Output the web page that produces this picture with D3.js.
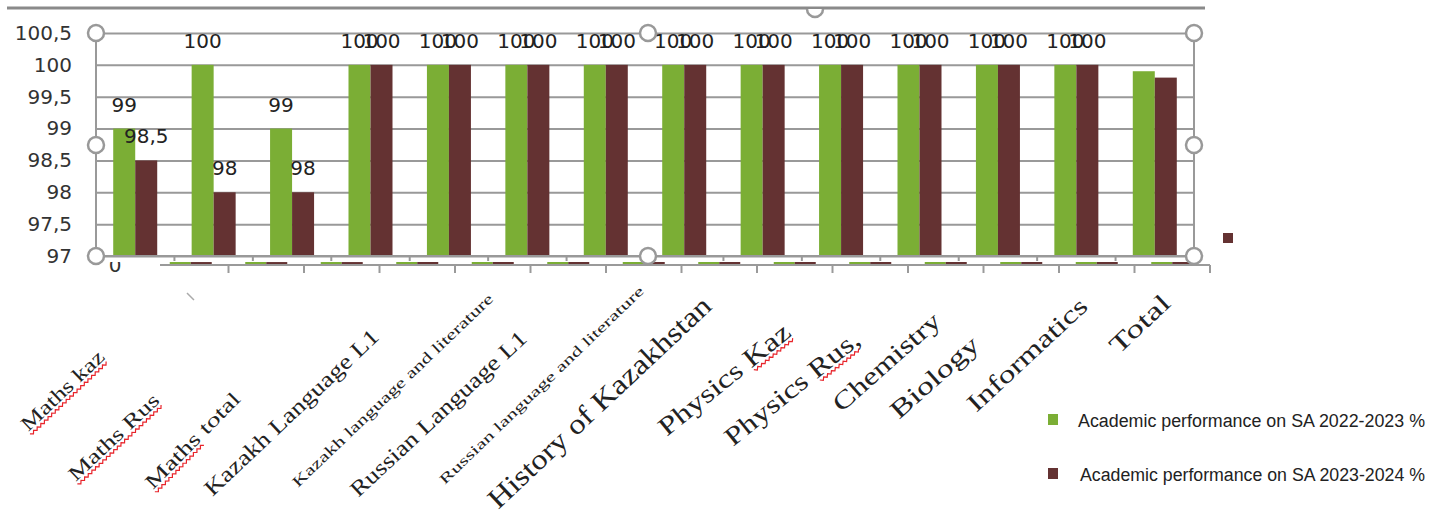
<!DOCTYPE html>
<html>
<head>
<meta charset="utf-8">
<script src="https://cdn.jsdelivr.net/npm/d3@7"></script>
<style>
  body { margin: 0; background: #fff; }
  svg { display: block; }
</style>
</head>
<body>
<script>
var width = 1432,
  height = 516;

// chart data
var categories = ["Maths kaz", "Maths Rus", "Maths total", "Kazakh Language L1", "Kazakh language and literature",
  "Russian Language L1", "Russian language and literature", "History of Kazakhstan", "Physics Kaz", "Physics Rus,",
  "Chemistry", "Biology", "Informatics", "Total"];
var series = ["Academic performance on SA 2022-2023 %", "Academic performance on SA 2023-2024 %"];
var values2022 = [99, 100, 99, 100, 100, 100, 100, 100, 100, 100, 100, 100, 100, 99.9];
var values2023 = [98.5, 98, 98, 100, 100, 100, 100, 100, 100, 100, 100, 100, 100, 99.8];
var yTicks = [97, 97.5, 98, 98.5, 99, 99.5, 100, 100.5];
var labelledCount = 13; // Total has no data labels

var colors = ["#7BAE35", "#643232"];

// rotated category label look (word-art like, uneven)
// dx from band centre, y of baseline start, angle, font size, text length, wavy underline range
var labelLayout = [
  { dx: -107, y: 432, a: -43.5, s: 20, len: 107, wave: [0, 1] },
  { dx: -138, y: 482, a: -43.3, s: 20, len: 117, wave: [0, 1] },
  { dx: -139, y: 490, a: -45.5, s: 20, len: 126, wave: [0, 0.55] },
  { dx: -158, y: 497, a: -43.4, s: 22, len: 231 },
  { dx: -151, y: 488, a: -43.8, s: 15, len: 272 },
  { dx: -169, y: 498, a: -42.9, s: 22, len: 232 },
  { dx: -161, y: 485, a: -44, s: 14, len: 278 },
  { dx: -186, y: 510, a: -43.2, s: 28, len: 295 },
  { dx: -96, y: 437, a: -39, s: 26, len: 162, wave: [0.68, 1] },
  { dx: -108, y: 447, a: -39, s: 26, len: 166, wave: [0.66, 0.97] },
  { dx: -78, y: 413, a: -41.7, s: 25, len: 135 },
  { dx: -99, y: 420, a: -41.7, s: 25, len: 110 },
  { dx: -100, y: 413, a: -42.9, s: 25, len: 154 },
  { dx: -36, y: 355, a: -43.3, s: 25, len: 73 }
];

var svg = d3.select("body").append("svg")
  .attr("width", width)
  .attr("height", height);

svg.append("rect").attr("width", width).attr("height", height).attr("fill", "#fff");

// ---- partly hidden chart underneath ----
var xUnder = d3.scaleBand().domain(categories).range([153, 1210]);
var yUnder = d3.scaleLinear().domain([0, 100]).range([265, 262]);
var under = svg.append("g");

categories.forEach(function (c, i) {
  [values2022[i], values2023[i]].forEach(function (v, k) {
    under.append("rect")
      .attr("x", xUnder(c) + xUnder.bandwidth() / 2 - 21 + k * 21)
      .attr("y", yUnder(v))
      .attr("width", 21)
      .attr("height", yUnder(0) - yUnder(v))
      .attr("fill", colors[k]);
  });
});
under.append("line")
  .attr("x1", 160).attr("x2", 1210).attr("y1", 265).attr("y2", 265)
  .attr("stroke", "#9a9a9a").attr("stroke-width", 2);
under.selectAll(".utick")
  .data(categories)
  .enter().append("line")
  .attr("x1", function (d) { return xUnder(d) + xUnder.bandwidth(); })
  .attr("x2", function (d) { return xUnder(d) + xUnder.bandwidth(); })
  .attr("y1", 265).attr("y2", 273)
  .attr("stroke", "#9a9a9a").attr("stroke-width", 2);
under.append("text")
  .attr("x", 115).attr("y", 272)
  .attr("text-anchor", "middle")
  .attr("font-family", "DejaVu Sans").attr("font-size", 20).attr("fill", "#333")
  .text("0");
under.append("line")
  .attr("x1", 187).attr("y1", 293).attr("x2", 194).attr("y2", 300)
  .attr("stroke", "#aaa").attr("stroke-width", 1.5);

// white sheet of the main chart covers the upper part
svg.append("rect").attr("x", 0).attr("y", 10).attr("width", 1210).attr("height", 252).attr("fill", "#fff");

// ---- main chart ----
var x = d3.scaleBand().domain(categories).range([96, 1194]);
var x1 = d3.scaleBand().domain([0, 1]).range([-22, 22]);
var y = d3.scaleLinear().domain([97, 100.5]).range([256, 33]);

var g = svg.append("g");

// gridlines
g.append("g")
  .attr("transform", "translate(96,0)")
  .call(d3.axisLeft(y).tickValues(yTicks).tickSize(-1098).tickFormat(""))
  .call(function (s) {
    s.select(".domain").remove();
    s.selectAll(".tick line").attr("stroke", "#999").attr("stroke-width", 2);
  });

// y axis labels
g.append("g")
  .attr("transform", "translate(96,0)")
  .call(d3.axisLeft(y).tickValues(yTicks).tickSize(0).tickPadding(24)
    .tickFormat(function (d) { return String(d).replace(".", ","); }))
  .call(function (s) {
    s.select(".domain").remove();
    s.selectAll(".tick text")
      .attr("font-family", "DejaVu Sans").attr("font-size", 20).attr("fill", "#333");
  });

// bars
categories.forEach(function (c, i) {
  var cx = x(c) + x.bandwidth() / 2;
  [values2022[i], values2023[i]].forEach(function (v, k) {
    g.append("rect")
      .attr("x", cx + x1(k))
      .attr("y", y(v))
      .attr("width", x1.bandwidth())
      .attr("height", y(97) - y(v))
      .attr("fill", colors[k]);
  });
});

// frame lines and category ticks
g.append("line").attr("x1", 96).attr("x2", 96).attr("y1", 33).attr("y2", 256)
  .attr("stroke", "#999").attr("stroke-width", 2);
g.append("line").attr("x1", 1194).attr("x2", 1194).attr("y1", 33).attr("y2", 256)
  .attr("stroke", "#999").attr("stroke-width", 2);
g.append("line").attr("x1", 96).attr("x2", 1194).attr("y1", 256).attr("y2", 256)
  .attr("stroke", "#999").attr("stroke-width", 2);
g.selectAll(".xtick")
  .data(categories.slice(0, -1))
  .enter().append("line")
  .attr("x1", function (d) { return x(d) + x.bandwidth(); })
  .attr("x2", function (d) { return x(d) + x.bandwidth(); })
  .attr("y1", 256).attr("y2", 261)
  .attr("stroke", "#999").attr("stroke-width", 2);

// data labels
categories.slice(0, labelledCount).forEach(function (c, i) {
  var cx = x(c) + x.bandwidth() / 2;
  [values2022[i], values2023[i]].forEach(function (v, k) {
    g.append("text")
      .attr("x", cx + x1(k) + x1.bandwidth() / 2)
      .attr("y", y(v) - 17)
      .attr("text-anchor", "middle")
      .attr("font-family", "DejaVu Sans").attr("font-size", 20).attr("fill", "#222")
      .text(String(v).replace(".", ","));
  });
});

// rotated category labels
categories.forEach(function (c, i) {
  var L = labelLayout[i];
  var lg = svg.append("g")
    .attr("transform", "translate(" + (x(c) + x.bandwidth() / 2 + L.dx) + "," + L.y + ") rotate(" + L.a + ")");
  lg.append("text")
    .attr("font-family", "Liberation Serif").attr("font-size", L.s).attr("fill", "#222")
    .attr("textLength", L.len).attr("lengthAdjust", "spacingAndGlyphs")
    .text(c);
  if (L.wave) {
    var x0 = L.wave[0] * L.len, xe = L.wave[1] * L.len, pts = [], up = true;
    for (var px = x0; px <= xe; px += 2.5) { pts.push([px, up ? 2.5 : 5]); up = !up; }
    lg.append("path")
      .attr("d", d3.line()(pts))
      .attr("fill", "none").attr("stroke", "#e8242b").attr("stroke-width", 1.2);
  }
});

// selection frame and handles
svg.append("line").attr("x1", 7).attr("x2", 1205).attr("y1", 8).attr("y2", 8)
  .attr("stroke", "#8a8a8a").attr("stroke-width", 3);
svg.append("path")
  .attr("d", "M807,9 A8,8 0 0 0 823,9")
  .attr("fill", "#fff").attr("stroke", "#999").attr("stroke-width", 2.5);
var handles = [[96, 33], [96, 145], [96, 256], [648, 33], [648, 256], [1194, 33], [1194, 145], [1194, 256]];
svg.selectAll(".handle")
  .data(handles)
  .enter().append("circle")
  .attr("cx", function (d) { return d[0]; })
  .attr("cy", function (d) { return d[1]; })
  .attr("r", 8)
  .attr("fill", "#fff").attr("stroke", "#999").attr("stroke-width", 2.5);

// legend
var legend = svg.append("g");
legend.append("rect").attr("x", 1223).attr("y", 233).attr("width", 10).attr("height", 10).attr("fill", colors[1]);
series.forEach(function (s, k) {
  var ly = 414 + k * 54;
  legend.append("rect").attr("x", 1048).attr("y", ly).attr("width", 10).attr("height", 11).attr("fill", colors[k]);
  legend.append("text")
    .attr("x", 1078 + k * 2).attr("y", ly + 13)
    .attr("font-family", "Liberation Sans").attr("font-size", 18).attr("fill", "#222")
    .attr("textLength", 347 - k * 2).attr("lengthAdjust", "spacingAndGlyphs")
    .text(s);
});
</script>
</body>
</html>
